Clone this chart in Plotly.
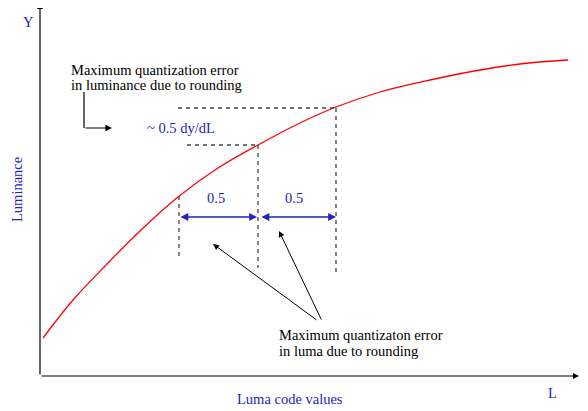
import plotly.graph_objects as go

# Curve: luma code value (L) vs luminance (Y), in diagram units
curve_L = [43, 73, 107, 140, 178, 218, 258, 300, 336, 380, 430, 480, 520, 568]
curve_Y = [73, 111, 147, 180, 214, 243, 266, 288, 304, 319, 331, 341, 347, 351]

# Three sample code values on the curve and the luminance they map to
sample_L = [179, 258, 336]
sample_Y = [215, 266, 303]
drop_bottom = [151, 143, 137]   # lower end of the vertical dashed guides
hline_left = [187, 178]         # left end of horizontal dashed guides (for 2nd, 3rd samples)
step_label = "0.5"

SERIF = "Liberation Serif, Times New Roman, serif"
BLUE = "#2323bd"
DASH = "#444444"

fig = go.Figure()

fig.add_trace(go.Scatter(x=curve_L, y=curve_Y, mode="lines",
                         line=dict(color="red", width=1.3, shape="spline", smoothing=1.0),
                         hoverinfo="skip", showlegend=False))

# vertical dashed guides
for L, Y, b in zip(sample_L, sample_Y, drop_bottom):
    fig.add_trace(go.Scatter(x=[L, L], y=[Y, b], mode="lines",
                             line=dict(color=DASH, width=1.3, dash="4px,4px"),
                             hoverinfo="skip", showlegend=False))
# horizontal dashed guides
for L, Y, left in zip(sample_L[1:], sample_Y[1:], hline_left):
    fig.add_trace(go.Scatter(x=[left, L], y=[Y, Y], mode="lines",
                             line=dict(color=DASH, width=1.3, dash="4px,4px"),
                             hoverinfo="skip", showlegend=False))

ann = []
# axes with arrows
ann.append(dict(x=40, y=408, ax=40, ay=35, xref="x", yref="y", axref="x", ayref="y",
                showarrow=True, arrowhead=2, arrowsize=1, arrowwidth=1.2, arrowcolor="black", text=""))
ann.append(dict(x=579, y=35, ax=40, ay=35, xref="x", yref="y", axref="x", ayref="y",
                showarrow=True, arrowhead=2, arrowsize=1, arrowwidth=1.2, arrowcolor="black", text=""))

# blue double arrows between sample code values
arrow_Y = 194
label_x = [216, 294]
for (a, b), lx in zip([(sample_L[0], sample_L[1] - 1), (sample_L[1] + 2, sample_L[2])], label_x):
    ann.append(dict(x=b, y=arrow_Y, ax=a, ay=arrow_Y, xref="x", yref="y", axref="x", ayref="y",
                    showarrow=True, arrowhead=2, startarrowhead=2, arrowside="end+start",
                    arrowsize=1.2, startarrowsize=1.2, arrowwidth=1.3, arrowcolor=BLUE, text=""))
    ann.append(dict(x=lx, y=213, xref="x", yref="y", showarrow=False,
                    text=step_label, font=dict(family=SERIF, size=14.5, color=BLUE)))

# black pointer arrows to the code-value spans
for tip, tail in [((213, 167), (318, 90)), ((279, 180), (322, 90))]:
    ann.append(dict(x=tip[0], y=tip[1], ax=tail[0], ay=tail[1], xref="x", yref="y",
                    axref="x", ayref="y", showarrow=True, arrowhead=2, arrowsize=1.2,
                    arrowwidth=1, arrowcolor="black", text=""))

# L-shaped pointer
fig.add_trace(go.Scatter(x=[84, 84], y=[319, 283], mode="lines",
                         line=dict(color="black", width=1.2), hoverinfo="skip", showlegend=False))
ann.append(dict(x=112, y=283, ax=84, ay=283, xref="x", yref="y", axref="x", ayref="y",
                showarrow=True, arrowhead=2, arrowsize=1.1, arrowwidth=1.2, arrowcolor="black", text=""))

# texts
def text(x, y, s, color="black", anchor="left", angle=0):
    ann.append(dict(x=x, y=y, xref="x", yref="y", xanchor=anchor, yanchor="middle",
                    showarrow=False, text=s, textangle=angle,
                    font=dict(family=SERIF, size=14.5, color=color)))

text(69, 341, "Maximum quantization error")
text(69, 326, "in luminance due to rounding")
text(277, 76, "Maximum quantizaton error")
text(277, 60, "in luma due to rounding")
text(145, 283, "~ 0.5 dy/dL", BLUE)
text(28, 389, "Y", BLUE, "center")
text(552, 18, "L", BLUE, "center")
text(290, 12, "Luma code values", BLUE, "center")
text(17, 221, "Luminance", BLUE, "center", -90)

# the page adds an 8px body margin; size the figure and ranges so diagram units map 1:1 to pixels
fig.update_layout(width=580, height=403, margin=dict(l=0, r=0, t=0, b=0),
                  paper_bgcolor="white", plot_bgcolor="white",
                  xaxis=dict(range=[8, 588], visible=False, fixedrange=True),
                  yaxis=dict(range=[0, 403], visible=False, fixedrange=True),
                  annotations=ann, showlegend=False)

fig.write_html("out.html")
